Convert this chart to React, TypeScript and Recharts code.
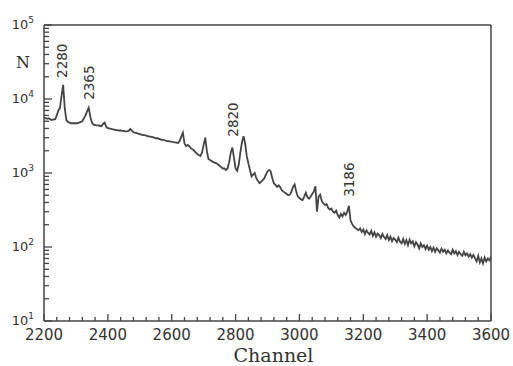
import { LineChart, Line, XAxis, YAxis, ReferenceLine, ReferenceDot, Label } from 'recharts'

// Spectrum sampled every 5 channels starting at channel 2200
const CHANNEL_START = 2200
const CHANNEL_STEP = 5

const COUNTS: number[] = [
  // 2200 - 2245
  5600, 5500, 5400, 5500, 5300, 5200, 5300, 5300, 6000, 7000,
  // 2250 - 2295
  7600, 11000, 15500, 7500, 5200, 4900, 4800, 4700, 4700, 4700,
  // 2300 - 2345
  4700, 4700, 4800, 4900, 5000, 5500, 6000, 6800, 7600, 5800,
  // 2350 - 2395
  4800, 4500, 4450, 4400, 4400, 4350, 4300, 4600, 4800, 4200,
  // 2400 - 2445
  4050, 4000, 3950, 3900, 3850, 3800, 3800, 3750, 3750, 3700,
  // 2450 - 2495
  3700, 3650, 3650, 3700, 3950, 3750, 3550, 3500, 3450, 3400,
  // 2500 - 2545
  3350, 3300, 3250, 3250, 3200, 3150, 3100, 3100, 3050, 3000,
  // 2550 - 2595
  2950, 2950, 2900, 2850, 2800, 2800, 2750, 2700, 2700, 2650,
  // 2600 - 2645
  2650, 2620, 2600, 2580, 2550, 2700, 3100, 3500, 2500, 2300,
  // 2650 - 2695
  2400, 2300, 2150, 2100, 2000, 1900, 1800, 1750, 1700, 1900,
  // 2700 - 2745
  2400, 3000, 2000, 1550, 1500, 1450, 1400, 1380, 1350, 1300,
  // 2750 - 2795
  1250, 1200, 1150, 1150, 1100, 1150, 1400, 1900, 2200, 1600,
  // 2800 - 2845
  1150, 1070, 1300, 1900, 2600, 3150, 2500, 1700, 1350, 1100,
  // 2850 - 2895
  900, 950, 1000, 850, 780, 730, 760, 800, 850, 950,
  // 2900 - 2945
  1050, 1100, 1050, 850, 720, 690, 650, 680, 640, 580,
  // 2950 - 2995
  560, 540, 520, 500, 510, 560, 650, 700, 560, 480,
  // 3000 - 3045
  460, 440, 430, 480, 540, 470, 450, 480, 520, 560,
  // 3050 - 3095
  660, 300, 480, 510, 420, 390, 370, 380, 340, 320,
  // 3100 - 3145
  330, 300, 290, 310, 270, 250, 280, 260, 290, 270,
  // 3150 - 3195
  300, 360, 230, 205, 190, 180, 175, 168, 178, 160,
  // 3200 - 3245
  172, 150, 168, 155, 148, 165, 142, 158, 138, 152,
  // 3250 - 3295
  145, 132, 150, 136, 128, 145, 124, 138, 120, 132,
  // 3300 - 3345
  126, 116, 134, 118, 112, 128, 110, 124, 106, 126,
  // 3350 - 3395
  112, 120, 102, 116, 108, 96, 112, 100, 106, 94,
  // 3400 - 3445
  104, 92, 100, 88, 98, 86, 96, 90, 84, 95,
  // 3450 - 3495
  86, 92, 82, 90, 84, 80, 92, 82, 88, 78,
  // 3500 - 3545
  86, 80, 76, 86, 77, 82, 74, 80, 72, 78,
  // 3550 - 3595
  70, 64, 76, 62, 70, 60, 72, 64, 70, 66,
  // 3600
  74,
]

// Peak annotations: text, channel where the label stands, count of the peak below it
const PEAK_LABELS = [
  { text: '2280', channel: 2258, count: 15500, gap: 7 },
  { text: '2365', channel: 2342, count: 7600, gap: 8 },
  { text: '2820', channel: 2792, count: 2200, gap: 11 },
  { text: '3186', channel: 3157, count: 360, gap: 9 },
]

const X_LABELS = [2200, 2400, 2600, 2800, 3000, 3200, 3400, 3600]
const X_MINOR_STEP = 40
const DECADES = [10, 100, 1000, 10000, 100000]
const MINOR_MULTIPLIERS = [2, 3, 4, 5, 6, 7, 8, 9]

const X_TICKS: number[] = []
for (let c = 2200; c <= 3600; c += X_MINOR_STEP) X_TICKS.push(c)

const Y_TICKS: number[] = []
DECADES.forEach((d) => {
  Y_TICKS.push(d)
  if (d < 100000) MINOR_MULTIPLIERS.forEach((m) => Y_TICKS.push(d * m))
})

const data = COUNTS.map((n, i) => ({ channel: CHANNEL_START + i * CHANNEL_STEP, counts: n }))

const INK = '#444'
const TEXT = '#333'
const SANS = '"DejaVu Sans", sans-serif'
const SERIF = '"DejaVu Serif", serif'

function XTick({ x, y, payload }: any) {
  const major = X_LABELS.includes(payload.value)
  return (
    <g>
      <line x1={x} x2={x} y1={y} y2={y - (major ? 7 : 4)} stroke={INK} strokeWidth={1.3} />
      {major && (
        <text x={x} y={y + 19} textAnchor="middle" fontFamily={SANS} fontSize={15} fill={TEXT}>
          {payload.value}
        </text>
      )}
    </g>
  )
}

function YTick({ x, y, payload }: any) {
  const exp = Math.round(Math.log10(payload.value))
  const major = DECADES.includes(payload.value)
  return (
    <g>
      <line x1={x} x2={x + (major ? 8 : 5)} y1={y} y2={y} stroke={INK} strokeWidth={1.3} />
      {major && (
        <text x={x - 10} y={y + 4} textAnchor="end" fontFamily={SANS} fontSize={13} fill={TEXT}>
          10
          <tspan dy={-6} fontSize={9}>
            {exp}
          </tspan>
        </text>
      )}
    </g>
  )
}

function PeakLabel({ cx, cy, text, gap }: any) {
  if (cx == null || cy == null) return null
  const by = cy - gap
  return (
    <text
      x={cx}
      y={by}
      dy="0.36em"
      transform={`rotate(-90 ${cx} ${by})`}
      textAnchor="start"
      fontFamily={SANS}
      fontSize={13.5}
      fill={TEXT}
    >
      {text}
    </text>
  )
}

export default function App() {
  return (
    <div style={{ position: 'fixed', left: 0, top: 0, width: 513, height: 366, background: '#fff' }}>
      <LineChart width={513} height={366} data={data} margin={{ top: 25, right: 22, bottom: 0, left: 0 }}>
        <XAxis
          dataKey="channel"
          type="number"
          domain={[2200, 3600]}
          ticks={X_TICKS}
          interval={0}
          tickSize={0}
          tickMargin={0}
          tick={<XTick />}
          height={45}
          stroke={INK}
          strokeWidth={1.5}
          allowDataOverflow
        >
          <Label
            content={({ viewBox }: any) => (
              <text
                x={viewBox.x + viewBox.width / 2 + 6}
                y={viewBox.y + 40.5}
                textAnchor="middle"
                fontFamily={SERIF}
                fontSize={19}
                fill={TEXT}
              >
                Channel
              </text>
            )}
          />
        </XAxis>
        <YAxis
          type="number"
          scale="log"
          domain={[10, 100000]}
          ticks={Y_TICKS}
          interval={0}
          tickSize={0}
          tickMargin={0}
          tick={<YTick />}
          width={44}
          stroke={INK}
          strokeWidth={1.5}
          allowDataOverflow
        >
          <Label
            content={({ viewBox }: any) => (
              <text x={23} y={viewBox.y + 43} textAnchor="middle" fontFamily={SERIF} fontSize={16} fill={TEXT}>
                N
              </text>
            )}
          />
        </YAxis>
        <ReferenceLine y={100000} stroke={INK} strokeWidth={1.5} />
        <ReferenceLine x={3600} stroke={INK} strokeWidth={1.5} />
        <Line
          type="linear"
          dataKey="counts"
          stroke="#444"
          strokeWidth={1.8}
          dot={false}
          isAnimationActive={false}
        />
        {PEAK_LABELS.map((p) => (
          <ReferenceDot
            key={p.text}
            x={p.channel}
            y={p.count}
            r={0}
            fill="none"
            stroke="none"
            shape={(props: any) => <PeakLabel {...props} text={p.text} gap={p.gap} />}
          />
        ))}
      </LineChart>
    </div>
  )
}
